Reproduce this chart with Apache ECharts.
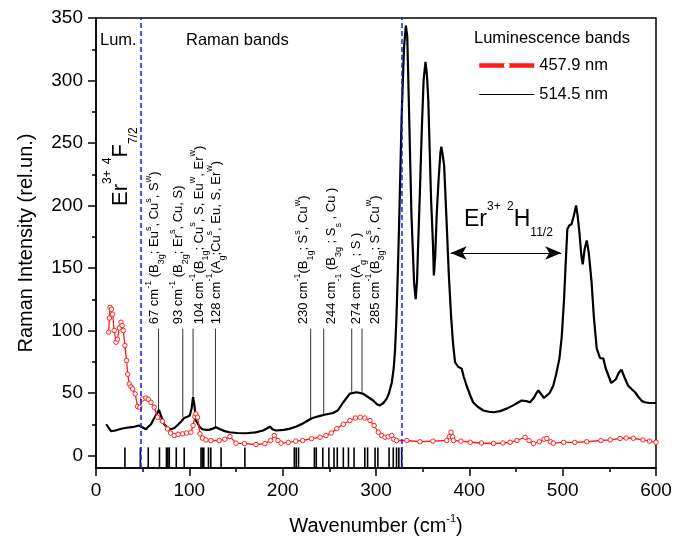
<!DOCTYPE html>
<html><head><meta charset="utf-8">
<script src="https://cdn.jsdelivr.net/npm/echarts@6/dist/echarts.min.js"></script>
<style>html,body{margin:0;padding:0;background:#fff}#c{width:674px;height:537px}</style>
</head><body><div id="c"></div>
<script>
// ---- data ----
const blackX = [11,16,21,25,31,36,41,46,51,53.5,56,59,61,64,67.5,70,73,77,80,84,87,91,94.5,98,100.5,102.5,104,105.5,107,111,114,118,121,125,128.5,133,138,143,151,161,171,179,184,186.5,189,193,201,207,214,221,227,232,239,246,254,259,265,272,279,286,291,297,301,304,308,311.5,314,317,319,320.5,322,323.5,325,327.5,330,332,333.5,334.7,336.5,338,340.8,342.5,344,345,347,349,351,353,354.5,356,357.5,359,361,362,363.5,365,367,369,370,371.5,373,375.7,378,380.4,382.5,384.7,388,391.8,394,397,401,404,409,415,421,425.8,433,440,448,456,461,465,469,472,474,477,480,482,486,490,493,496.5,499,501.5,503,505,507,509.5,512,514.4,516,518,520,521.5,523.5,525.8,528,531,533.5,536.5,540,543.6,546,549,552,554,557,560,563,566,570,574,577.6,581,585,588,593,600];
const blackY = [25,19.5,20,21,22,22.5,23,24,22,21,23,25,28,32,36.5,31,25,22,21,22,24,27,30,31,32,38,46.6,40,28,23,21,20.5,20.5,21.5,22.6,21,19.5,18.6,18,17.8,18.5,20,22,23.2,21,20,20.5,21.3,23,25.3,28,30,31.5,32.8,34,36,42.6,49.5,50.6,49.5,47,44,41,40,42,45.5,50,58.6,70,85.5,112,150,192,272,326,344,335,298,240,192,138.5,125,140,165,210,259,300,315,305,285,245,205,170,144,160,192,220,242,247,240,232,186,145,112,90,74.6,71,69.5,63,56,48,42.6,39,36,35,34.6,35.5,37.5,40.5,44,43.5,42.6,46,50,52,49,46,45.5,50,56,65,77.5,95,125,150,181,184,185,192,200,192,178,160,153,165,172,162,138.5,110,85.5,78,77.5,70,64,58,57.5,61,66,68.7,63,56,53,50.6,47,43.5,42.6,42,42];
const redX = [13.5,14.3,15,16.5,17.8,19.5,21.4,23,25,26.7,28,29.2,31,32.7,34,35.6,37.5,39.2,42,44.5,47,49.9,53.5,56,58.9,62.4,66,71.3,76.7,80,83.8,88,92.7,97,101.7,104,106,107,108.8,111.4,114,117.8,123,132,138,143.5,150,159,171.4,181,187,191,195,198.2,206,214,221.4,231,240,246.4,252,258,265,272,278,283,288,293.6,298,302.5,306,309.7,313,316.8,319,322,333,347,361,375.7,378.5,380.4,382,383,391,401,413,425.8,436,443.7,451,459.7,464,468.6,475,480,483,487,490,501,513,525.8,541,551,561.5,568,575.7,586,593,600];
const redY = [98.6,110,118.5,117,113,100,90.6,93,102,106.6,104,100,88,76,65,57.3,55,53.3,49.3,39.2,38.6,45.3,46,45,42.6,38.6,30.6,27.4,21.3,18,16,17,17.3,18,18.6,24,31,33.3,30.6,17.3,14,12.5,12,12,13,15.2,9.9,9.5,8.8,9.5,12,16,12,9.9,10.5,11.5,12,13.5,14.6,16,18,21.5,25,28,30,30.6,30,28,24,18.6,16,14.6,15,16,13,12,12,11,11.5,12,15,18.6,15,12,11.5,10.6,10,9.6,10,10.6,12,14.6,12,9.6,11,13,13.6,11,9.9,10.5,10.5,11,12,12.5,13.6,14,13.8,12.5,11.5,10.6];
const bandPositions = [31,47.5,56,68,75.5,77,78.5,86,94.5,112.5,114,115.5,120.5,123,134,159.5,212.5,214.5,217,234,236,243,249.5,255,258.5,265,270.5,276.5,288,291,299,302,314,318.5,322,324.5,327.5];
const bandLow = -10, bandHigh = 6.5;
const labelBands = [67,93,104,128,230,244,274,285];
const labelLineBottom = [36.5,30.6,46.6,22.6,30.1,33.3,51,51];
const labelLineTop = 101.5;
const labelTexts = [
  '67 cm{sup|-1} (B{sub|3g}; Eu{sup|s}, Cu{sup|s}, S{sup|w})',
  '93 cm{sup|-1} (B{sub|2g}; Er{sup|s}, Cu, S)',
  '104 cm{sup|-1}(B{sub|1g}; Cu{sup|s}, S, Eu{sup|w}, Er{sup|w})',
  '128 cm{sup|-1}(A{sub|g};Cu{sup|s}, Eu, S, Er{sup|w})',
  '230 cm{sup|-1}(B{sub|1g}; S{sup|s}, Cu{sup|w})',
  '244 cm{sub|-1} (B{sub|3g} ; S{sub|s} , Cu )',
  '274 cm (A{sub|g} ; S )',
  '285 cm{sup|-1}(B{sub|3g}; S{sup|s}, Cu{sup|w})'
];
const lumLines = [47.5, 327.5];
const arrowFrom = [380, 162], arrowTo = [498.5, 162];
const yMajor = [0,50,100,150,200,250,300,350];
const yMinor = [25,75,125,175,225,275,325];
const seriesNames = ['457.9 nm', '514.5 nm'];

// ---- chart ----
const FONT = 'Liberation Sans, Arial, sans-serif';
const chart = echarts.init(document.getElementById('c'), null, {renderer: 'canvas'});
const zip = (xs, ys) => xs.map((x, i) => [x, ys[i]]);

const option = {
  animation: false,
  backgroundColor: '#fff',
  textStyle: {fontFamily: FONT, color: '#000'},
  grid: {left: 96, right: 18, top: 18, bottom: 69, outerBoundsMode: 'none', containLabel: false,
    show: true, borderColor: '#000', borderWidth: 1.5, backgroundColor: 'transparent'},
  legend: {
    orient: 'vertical', left: 472, top: 52, itemWidth: 55, itemHeight: 7, itemGap: 12,
    textStyle: {fontSize: 16.5, fontFamily: FONT, color: '#000'},
    data: [
      {name: seriesNames[0], lineStyle: {width: 4.5}, itemStyle: {color: '#fff', borderColor: '#ff1a1a', borderWidth: 0}},
      {name: seriesNames[1], lineStyle: {width: 1}, itemStyle: {opacity: 0}}
    ]
  },
  xAxis: {
    type: 'value', min: 0, max: 600, interval: 100,
    name: 'Wavenumber (cm{sup|-1})', nameLocation: 'middle', nameGap: 45,
    nameTextStyle: {fontSize: 20, fontFamily: FONT, color: '#000', lineHeight: 26,
      rich: {sup: {fontSize: 11, verticalAlign: 'top', lineHeight: 26, fontFamily: FONT, color: '#000'}}},
    axisLine: {show: true, onZero: false, lineStyle: {color: '#000', width: 1.5}},
    axisTick: {show: true, inside: false, length: 8, lineStyle: {color: '#000', width: 1.5}},
    minorTick: {show: true, splitNumber: 2, length: 4, lineStyle: {color: '#000', width: 1.5}},
    axisLabel: {fontSize: 19, fontFamily: FONT, color: '#000', margin: 13},
    splitLine: {show: false}, minorSplitLine: {show: false}
  },
  yAxis: [{
    type: 'value', min: -10, max: 350,
    name: 'Raman Intensity (rel.un.)', nameLocation: 'middle', nameGap: 60,
    nameTextStyle: {fontSize: 20, fontFamily: FONT, color: '#000'},
    axisLine: {show: true, onZero: false, lineStyle: {color: '#000', width: 1.5}},
    axisTick: {show: true, inside: false, length: 8, customValues: yMajor, lineStyle: {color: '#000', width: 1.5}},
    axisLabel: {fontSize: 19, fontFamily: FONT, color: '#000', margin: 13, customValues: yMajor},
    splitLine: {show: false}
  }, {
    type: 'value', min: -10, max: 350, position: 'left', offset: 0,
    axisLine: {show: false, onZero: false},
    axisTick: {show: true, inside: false, length: 4, customValues: yMinor, lineStyle: {color: '#000', width: 1.5}},
    axisLabel: {show: false},
    splitLine: {show: false}
  }],
  series: [
    {
      name: seriesNames[1], type: 'line', data: zip(blackX, blackY), showSymbol: false, symbol: 'none',
      lineStyle: {color: '#000', width: 2.2}, itemStyle: {color: '#000'}, z: 3,
      markLine: {
        silent: true, symbol: ['none', 'none'], label: {show: false},
        data: [
          ...lumLines.map(v => ({xAxis: v, lineStyle: {color: '#1a1aff', type: [5, 3], width: 1.5}})),
          [{coord: arrowFrom, symbol: 'arrow', symbolSize: [10, 16]}, {coord: arrowTo, symbol: 'arrow', symbolSize: [10, 16], lineStyle: {color: '#000', width: 1, type: 'solid'}}]
        ]
      }
    },
    {
      name: seriesNames[0], type: 'line', data: zip(redX, redY), showSymbol: true, symbol: 'circle', symbolSize: 4.5,
      lineStyle: {color: '#ff1a1a', width: 1.3},
      itemStyle: {color: '#fff', borderColor: '#ff2020', borderWidth: 1}, z: 4
    },
    {
      name: 'bands', type: 'custom', data: bandPositions.map(v => [v, bandHigh]), z: 2,
      renderItem: (params, api) => {
        const x = api.value(0);
        const p1 = api.coord([x, bandLow]), p2 = api.coord([x, bandHigh]);
        return {type: 'line', shape: {x1: p1[0], y1: p1[1], x2: p2[0], y2: p2[1]}, style: {stroke: '#000', lineWidth: 1.6}};
      }
    },
    {
      name: 'labelLines', type: 'custom', data: labelBands.map((v, i) => [v, labelLineBottom[i]]), z: 2,
      renderItem: (params, api) => {
        const x = api.value(0);
        const p1 = api.coord([x, api.value(1)]), p2 = api.coord([x, labelLineTop]);
        return {type: 'line', shape: {x1: p1[0], y1: p1[1], x2: p2[0], y2: p2[1]}, style: {stroke: '#333', lineWidth: 1}};
      }
    }
  ]
};
chart.setOption(option);

// ---- annotation texts ----
const rich13 = {
  sup: {fontSize: 9, verticalAlign: 'top', lineHeight: 22, fontFamily: FONT, fill: '#000'},
  sub: {fontSize: 9, verticalAlign: 'bottom', lineHeight: 22, fontFamily: FONT, fill: '#000'}
};
const richBig = {
  sup: {fontSize: 12, verticalAlign: 'top', lineHeight: 38, fontFamily: FONT, fill: '#000'},
  sub: {fontSize: 12, verticalAlign: 'bottom', lineHeight: 38, fontFamily: FONT, fill: '#000'}
};
const labelDx = [-4, -4, 6, 1, -7, 8, 5, 13];
const graphics = [];
labelBands.forEach((b, i) => {
  const p = chart.convertToPixel({gridIndex: 0}, [b, 105]);
  graphics.push({
    type: 'text', x: p[0] + labelDx[i], y: p[1], rotation: Math.PI / 2,
    style: {text: labelTexts[i], rich: rich13, fontSize: 13, fontFamily: FONT, fill: '#000', lineHeight: 22, align: 'left', verticalAlign: 'middle'}
  });
});
const plain = (x, y, text, size) => ({type: 'text', x, y, style: {text, fontSize: size, fontFamily: FONT, fill: '#000', align: 'left', verticalAlign: 'middle'}});
graphics.push(plain(100, 40, 'Lum.', 16.5));
graphics.push(plain(186, 40, 'Raman bands', 16.5));
graphics.push(plain(474, 38, 'Luminescence bands', 16.5));
graphics.push({
  type: 'text', x: 121, y: 206, rotation: Math.PI / 2,
  style: {text: 'Er{sup|3+} {sup|4}F{sub|7/2}', rich: richBig, fontSize: 22, fontFamily: FONT, fill: '#000', lineHeight: 38, align: 'left', verticalAlign: 'middle'}
});
graphics.push({
  type: 'text', x: 464, y: 220,
  style: {text: 'Er{sup|3+} {sup|2}H{sub|11/2}', rich: richBig, fontSize: 23, fontFamily: FONT, fill: '#000', lineHeight: 38, align: 'left', verticalAlign: 'middle'}
});
chart.setOption({graphic: {elements: graphics}});
</script>
</body></html>
